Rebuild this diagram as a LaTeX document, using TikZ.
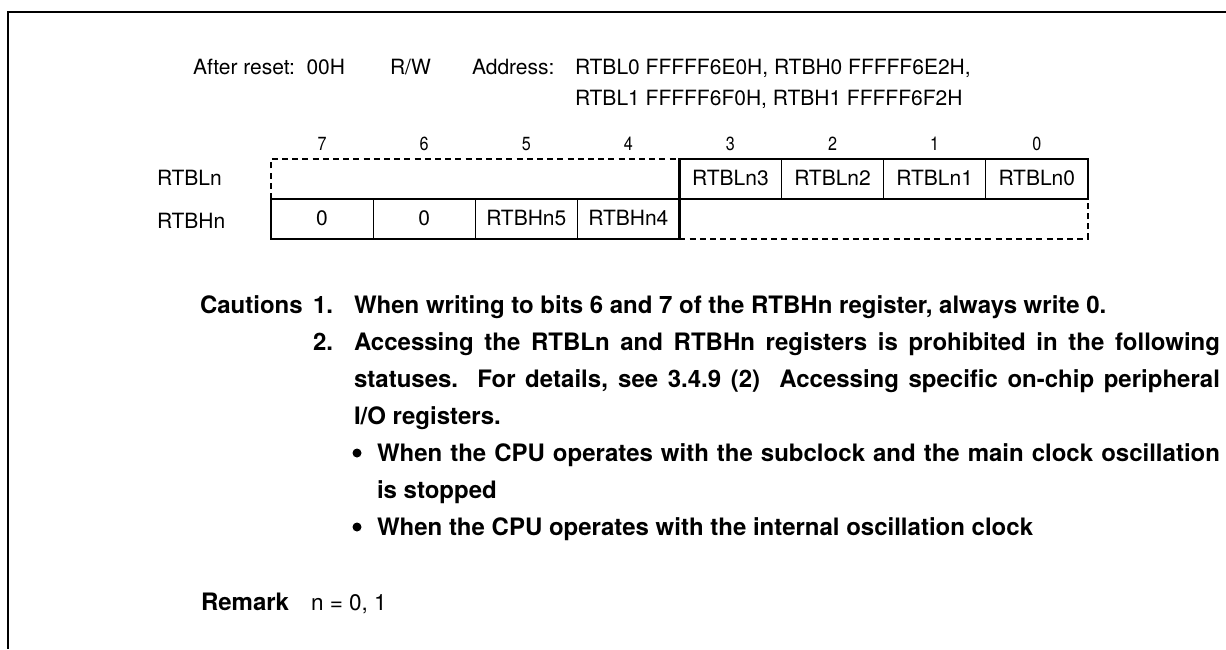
\documentclass[tikz,border=0pt]{standalone}
\usepackage{fontspec}
\setmainfont{TeX Gyre Heros}
\begin{document}
\begin{tikzpicture}[x=1pt,y=-1pt,
  every node/.style={inner sep=0pt,outer sep=0pt},
  frameline/.style={line width=2.8pt},
  regline/.style={line width=2.2pt},
  divline/.style={line width=0.8pt},
  dashline/.style={line width=2.2pt,dash pattern=on 6pt off 4.2pt},
  hdr/.style={anchor=base west,font=\fontsize{21}{25}\selectfont},
  bitnum/.style={anchor=base,font=\fontsize{19}{21}\selectfont},
  celltext/.style={anchor=base,font=\fontsize{21}{25}\selectfont},
  caut/.style={anchor=base west,font=\fontsize{24}{28}\selectfont\bfseries},
  plain/.style={anchor=base west,font=\fontsize{22.5}{26}\selectfont},
  bul/.style={circle,fill=black,minimum size=9pt}]
\useasboundingbox (0,0) rectangle (1226,649);
% frame (open at right and bottom)
\draw[frameline] (1226,12) -- (8,12) -- (8,649);
% header
\node[hdr] (reset) at (193,74) {After reset:\ \ 00H};
\node[hdr] (rw) at (390,74) {R/W};
\node[hdr] (addr) at (472,74) {Address:};
\node[hdr] (addr1) at (575,74) {RTBL0 FFFFF6E0H, RTBH0 FFFFF6E2H,};
\node[hdr] (addr2) at (575,105) {RTBL1 FFFFF6F0H, RTBH1 FFFFF6F2H};
% bit numbers
\foreach \k/\b in {0/7,1/6,2/5,3/4,4/3,5/2,6/1,7/0}
  \node[bitnum] (bit\b) at ({271+102.1*(\k+0.5)},150) {\scalebox{0.85}[1]{\b}};
% row labels
\node[hdr] (lblL) at (157,185) {RTBLn};
\node[hdr] (lblH) at (157,228) {RTBHn};
% register outlines
\draw[dashline] (271,199) -- (271,159) -- (679.4,159);
\draw[dashline] (679.4,239) -- (1087.8,239) -- (1087.8,199);
\draw[regline] (679.4,159) rectangle (1087.8,199);
\draw[regline] (271,199) rectangle (679.4,239);
\foreach \k in {5,6,7}
  \draw[divline] ({271+102.1*\k},159) -- ({271+102.1*\k},199);
\foreach \k in {1,2,3}
  \draw[divline] ({271+102.1*\k},199) -- ({271+102.1*\k},239);
% cell texts
\foreach \k/\t/\n in {4/RTBLn3/l3,5/RTBLn2/l2,6/RTBLn1/l1,7/RTBLn0/l0}
  \node[celltext] (\n) at ({271+102.1*(\k+0.5)},185.5) {\t};
\foreach \k/\t/\n in {0/0/h7,1/0/h6,2/RTBHn5/h5,3/RTBHn4/h4}
  \node[celltext] (\n) at ({271+102.1*(\k+0.5)},225.5) {\t};
% cautions
\node[caut] (cautions) at (200,313) {Cautions};
\node[caut] (c1num) at (313,313) {1.};
\node[caut] (c1) at (354,313) {When writing to bits 6 and 7 of the RTBHn register, always write 0.};
\node[caut] (c2num) at (313,350) {2.};
\node[caut] (c2a) at (354,350) {\makebox[866pt][s]{Accessing the RTBLn and RTBHn registers is prohibited in the following}};
\node[caut] (c2b) at (354,387) {\makebox[866pt][s]{statuses.\ \ For details, see 3.4.9 (2)\ \ Accessing specific on-chip peripheral}};
\node[caut] (c2c) at (354,424) {I/O registers.};
\node[bul] (b1) at (357,453) {};
\node[caut] (b1a) at (377,461) {\makebox[843pt][s]{When the CPU operates with the subclock and the main clock oscillation}};
\node[caut] (b1b) at (377,498) {is stopped};
\node[bul] (b2) at (357,527) {};
\node[caut] (b2a) at (377,535) {When the CPU operates with the internal oscillation clock};
% remark
\node[caut] (remark) at (201,610) {Remark};
\node[plain] (remtext) at (311,610) {n = 0, 1};
\end{tikzpicture}
\end{document}
